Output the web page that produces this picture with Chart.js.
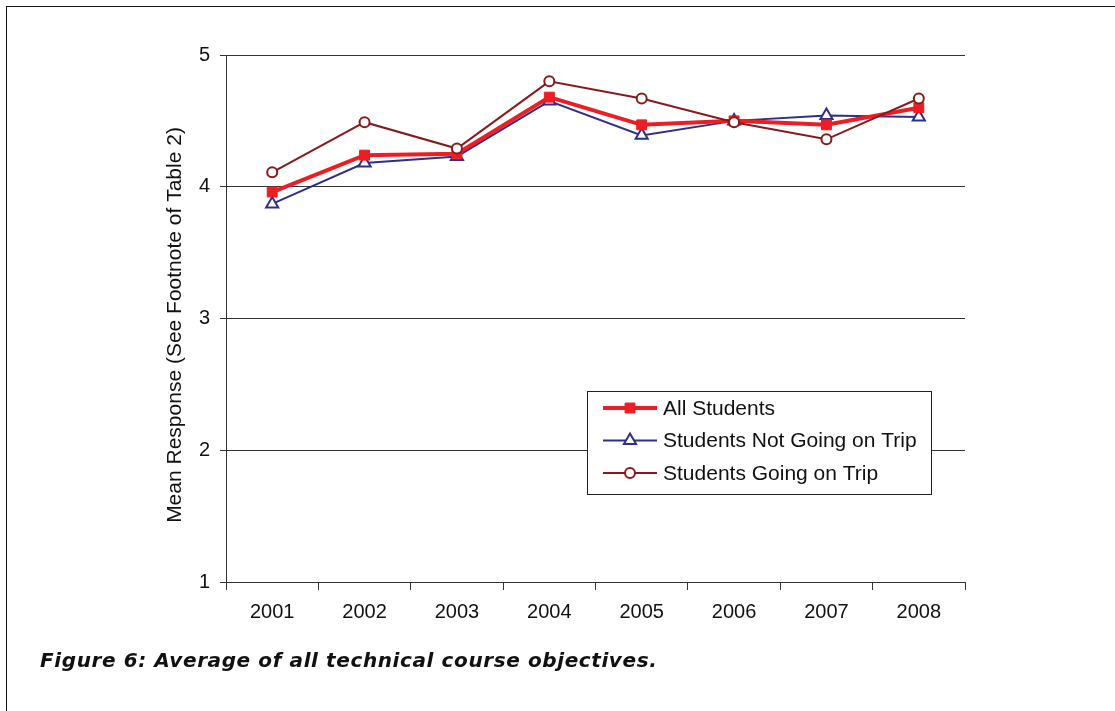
<!DOCTYPE html>
<html>
<head>
<meta charset="utf-8">
<script src="https://cdn.jsdelivr.net/npm/chart.js@4"></script>
<style>
  html, body { margin: 0; padding: 0; background: #fff; }
  #wrap { position: relative; width: 1115px; height: 711px; overflow: hidden; }
  #frame { position: absolute; left: 6px; top: 6px; width: 1200px; height: 800px;
           border-left: 1.5px solid #111; border-top: 1.5px solid #111; }
  #chart { position: absolute; left: 0; top: 0; }
  #caption { position: absolute; left: 40px; top: 648px; font-family: "DejaVu Sans", sans-serif;
             font-weight: 700; font-style: italic; font-size: 20px; letter-spacing: 0.6px;
             color: #111; white-space: nowrap; }
</style>
</head>
<body>
<div id="wrap">
  <div id="frame"></div>
  <canvas id="chart" width="1115" height="711"></canvas>
  <div id="caption">Figure 6: Average of all technical course objectives.</div>
</div>
<script>
// Data
const years = ['2001', '2002', '2003', '2004', '2005', '2006', '2007', '2008'];
const allStudents = [3.96, 4.24, 4.25, 4.68, 4.47, 4.50, 4.47, 4.60];
const notGoing = [3.87, 4.18, 4.23, 4.65, 4.39, 4.50, 4.54, 4.53];
const going = [4.11, 4.49, 4.29, 4.80, 4.67, 4.49, 4.36, 4.67];
const yTicks = [1, 2, 3, 4, 5];

const FONT = 'Liberation Sans, Arial, sans-serif';

// Legend box drawn inside the plot, like the original
const boxLegend = {
    id: 'boxLegend',
    afterDraw(chart) {
        const ctx = chart.ctx;
        const x0 = 587, y0 = 391, w = 344, h = 103;
        ctx.save();
        ctx.fillStyle = '#fff';
        ctx.fillRect(x0, y0, w, h);
        ctx.strokeStyle = '#222';
        ctx.lineWidth = 1;
        ctx.strokeRect(x0 + 0.5, y0 + 0.5, w, h);
        [0, 1, 2].forEach((i, k) => {
            const ds = chart.data.datasets[i];
            const y = y0 + 17 + k * 32.5;
            ctx.strokeStyle = ds.borderColor;
            ctx.lineWidth = ds.borderWidth;
            ctx.beginPath();
            ctx.moveTo(x0 + 16, y);
            ctx.lineTo(x0 + 70, y);
            ctx.stroke();
            ctx.fillStyle = ds.pointBackgroundColor;
            ctx.strokeStyle = ds.pointBorderColor;
            ctx.lineWidth = ds.pointBorderWidth;
            Chart.helpers.drawPoint(ctx, { pointStyle: ds.pointStyle, radius: ds.pointRadius, borderWidth: ds.pointBorderWidth }, x0 + 43, y);
            ctx.fillStyle = '#111';
            ctx.font = '21px ' + FONT;
            ctx.textBaseline = 'middle';
            ctx.fillText(ds.label, x0 + 76, y + 1);
        });
        ctx.restore();
    }
};

// y-axis title, sitting a little below the plot's middle as in the original
const yTitle = {
    id: 'yTitle',
    afterDraw(chart) {
        const ctx = chart.ctx;
        ctx.save();
        ctx.translate(175, 325);
        ctx.rotate(-Math.PI / 2);
        ctx.fillStyle = '#111';
        ctx.font = '21px ' + FONT;
        ctx.textAlign = 'center';
        ctx.textBaseline = 'middle';
        ctx.fillText('Mean Response (See Footnote of Table 2)', 0, 0);
        ctx.restore();
    }
};

new Chart(document.getElementById('chart'), {
    type: 'line',
    data: {
        labels: years,
        datasets: [
            {
                label: 'All Students',
                data: allStudents,
                borderColor: '#ee1d24',
                borderWidth: 4,
                pointStyle: 'rect',
                pointRadius: 7,
                pointBackgroundColor: '#ee1d24',
                pointBorderColor: '#ee1d24',
                pointBorderWidth: 1,
                order: 1
            },
            {
                label: 'Students Not Going on Trip',
                data: notGoing,
                borderColor: '#2e3087',
                borderWidth: 2,
                pointStyle: 'triangle',
                pointRadius: 7,
                pointBackgroundColor: '#fff',
                pointBorderColor: '#2e3087',
                pointBorderWidth: 2,
                order: 2
            },
            {
                label: 'Students Going on Trip',
                data: going,
                borderColor: '#861b1d',
                borderWidth: 2,
                pointStyle: 'circle',
                pointRadius: 5,
                pointBackgroundColor: '#fff',
                pointBorderColor: '#861b1d',
                pointBorderWidth: 2,
                order: 0
            }
        ]
    },
    options: {
        responsive: false,
        animation: false,
        layout: { padding: { left: 160, right: 150, top: 55, bottom: 0 } },
        plugins: { legend: { display: false }, tooltip: { enabled: false } },
        elements: { line: { tension: 0 } },
        scales: {
            x: {
                offset: true,
                afterFit(scale) { scale.height = 129; },
                grid: { offset: true, drawOnChartArea: false, drawTicks: true, tickLength: 8, color: '#333' },
                border: { display: true, color: '#333', width: 1 },
                ticks: { font: { family: FONT, size: 20 }, color: '#111', padding: 10 }
            },
            y: {
                min: 1,
                max: 5,
                afterFit(scale) { scale.width = 66; },
                afterBuildTicks(scale) { scale.ticks = yTicks.map(v => ({ value: v })); },
                grid: { color: '#333', lineWidth: 1, tickLength: 6 },
                border: { display: true, color: '#333', width: 1 },
                ticks: { font: { family: FONT, size: 20 }, color: '#111', padding: 10 }
            }
        }
    },
    plugins: [boxLegend, yTitle]
});
</script>
</body>
</html>
